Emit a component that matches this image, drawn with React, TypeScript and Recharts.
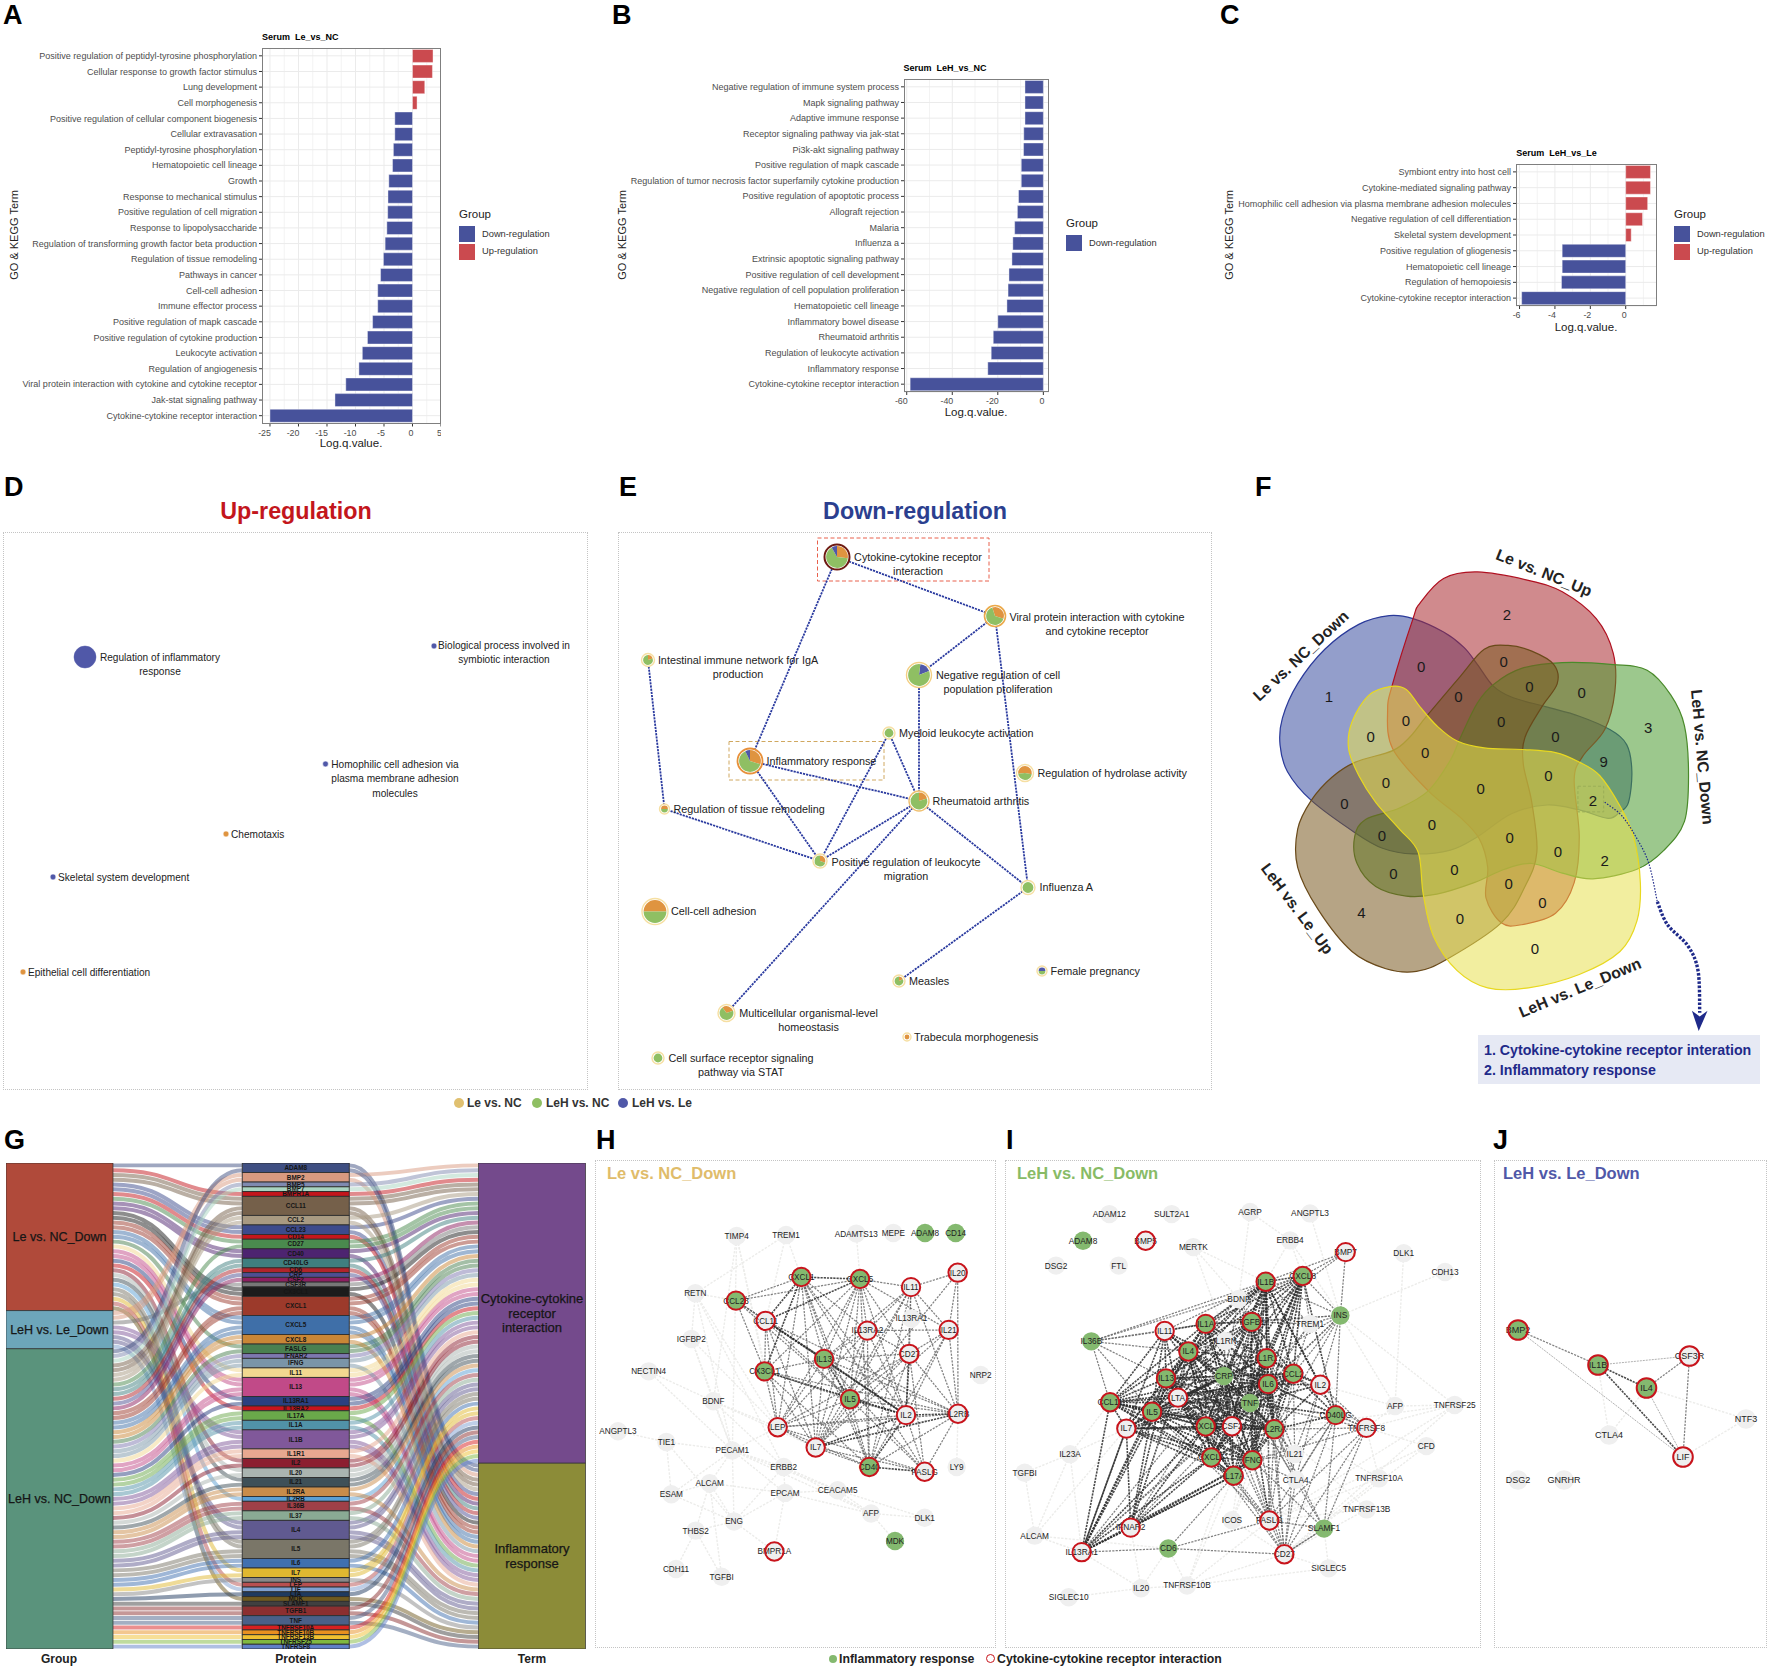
import { ReactNode } from 'react';
import {
  Bar,
  BarChart,
  CartesianGrid,
  Cell,
  ReferenceArea,
  ReferenceLine,
  Sankey,
  Scatter,
  ScatterChart,
  XAxis,
  YAxis
} from 'recharts';

const FONT = '"Liberation Sans", Arial, sans-serif';
const DOWN = '#47529b';
const UP = '#cb4a4f';
const PIE_GREEN = '#8fbf63';
const PIE_ORANGE = '#df9440';
const PIE_BLUE = '#5058a8';
const NODE_GREEN = '#84b96f';
const NODE_GREY = '#efefef';
const RING_RED = '#c8141c';
const NAVY = '#1f2a8a';

// ---- panels A, B, C ----
const aTerms = [
  'Positive regulation of peptidyl-tyrosine phosphorylation',
  'Cellular response to growth factor stimulus',
  'Lung development',
  'Cell morphogenesis',
  'Positive regulation of cellular component biogenesis',
  'Cellular extravasation',
  'Peptidyl-tyrosine phosphorylation',
  'Hematopoietic cell lineage',
  'Growth',
  'Response to mechanical stimulus',
  'Positive regulation of cell migration',
  'Response to lipopolysaccharide',
  'Regulation of transforming growth factor beta production',
  'Regulation of tissue remodeling',
  'Pathways in cancer',
  'Cell-cell adhesion',
  'Immune effector process',
  'Positive regulation of mapk cascade',
  'Positive regulation of cytokine production',
  'Leukocyte activation',
  'Regulation of angiogenesis',
  'Viral protein interaction with cytokine and cytokine receptor',
  'Jak-stat signaling pathway',
  'Cytokine-cytokine receptor interaction'
];
const aValues = [3.6, 3.5, 2.15, 0.8, -3.1, -3.1, -3.35, -3.5, -4.15, -4.3, -4.35, -4.5, -4.8, -5.1, -5.6, -6.1, -6.1, -7.0, -7.9, -8.8, -9.4, -11.7, -13.6, -25];
const aTicks = [-25, -20, -15, -10, -5, 0, 5];
const aMinor = [-22.5, -17.5, -12.5, -7.5, -2.5, 2.5];

const bTerms = [
  'Negative regulation of immune system process',
  'Mapk signaling pathway',
  'Adaptive immune response',
  'Receptor signaling pathway via jak-stat',
  'Pi3k-akt signaling pathway',
  'Positive regulation of mapk cascade',
  'Regulation of tumor necrosis factor superfamily cytokine production',
  'Positive regulation of apoptotic process',
  'Allograft rejection',
  'Malaria',
  'Influenza a',
  'Extrinsic apoptotic signaling pathway',
  'Positive regulation of cell development',
  'Negative regulation of cell population proliferation',
  'Hematopoietic cell lineage',
  'Inflammatory bowel disease',
  'Rheumatoid arthritis',
  'Regulation of leukocyte activation',
  'Inflammatory response',
  'Cytokine-cytokine receptor interaction'
];
const bValues = [-8.07, -8.07, -8.07, -8.6, -8.7, -9.7, -9.7, -10.9, -11.4, -12.6, -13.4, -13.8, -15.1, -15.5, -16, -20, -22, -22.9, -24.4, -58.5];
const bTicks = [-60, -40, -20, 0];
const bMinor = [-50, -30, -10];

const cTerms = [
  'Symbiont entry into host cell',
  'Cytokine-mediated signaling pathway',
  'Homophilic cell adhesion via plasma membrane adhesion molecules',
  'Negative regulation of cell differentiation',
  'Skeletal system development',
  'Positive regulation of gliogenesis',
  'Hematopoietic cell lineage',
  'Regulation of hemopoiesis',
  'Cytokine-cytokine receptor interaction'
];
const cValues = [1.4, 1.4, 1.24, 0.95, 0.31, -3.59, -3.59, -3.63, -5.88];
const cTicks = [-6, -4, -2, 0];
const cMinor = [-5, -3, -1, 1];

// ---- panel D ----
const dNodes = [
  { id: 'inflam', x: 85, y: 657, r: 11, inset: 0, ring: PIE_BLUE, ringWidth: 0.5, slices: [[PIE_BLUE, 1]], lines: ['Regulation of inflammatory', 'response'], lx: 160, ly: 657, anchor: 'middle' },
  { id: 'bio', x: 434, y: 646, r: 2.4, ring: '#c9cbe6', slices: [[PIE_BLUE, 1]], lines: ['Biological process involved in', 'symbiotic interaction'], lx: 504, ly: 645, anchor: 'middle' },
  { id: 'homo', x: 325.5, y: 764, r: 2.4, ring: '#c9cbe6', slices: [[PIE_BLUE, 1]], lines: ['Homophilic cell adhesion via', 'plasma membrane adhesion', 'molecules'], lx: 395, ly: 764, anchor: 'middle' },
  { id: 'chemo', x: 226, y: 834, r: 2.4, ring: '#f5dcc0', slices: [[PIE_ORANGE, 1]], lines: ['Chemotaxis'], lx: 231, ly: 834, anchor: 'start' },
  { id: 'skel', x: 53, y: 877, r: 2.4, ring: '#c9cbe6', slices: [[PIE_BLUE, 1]], lines: ['Skeletal system development'], lx: 58, ly: 877, anchor: 'start' },
  { id: 'epi', x: 23, y: 972, r: 2.4, ring: '#f5dcc0', slices: [[PIE_ORANGE, 1]], lines: ['Epithelial cell differentiation'], lx: 28, ly: 972, anchor: 'start' }
];

// ---- panel E ----
const PALE = '#f6dfa2';
const eNodes = [
  { id: 'ccr', x: 837, y: 557, r: 12.5, ring: '#6e1a12', ringWidth: 2, start: 0, slices: [[PIE_ORANGE, 0.27], [PIE_GREEN, 0.65], [PIE_BLUE, 0.08]], lines: ['Cytokine-cytokine receptor', 'interaction'], lx: 918, ly: 557, anchor: 'middle' },
  { id: 'viral', x: 995, y: 616, r: 10.5, ring: '#eba94a', ringWidth: 1.6, start: -0.05, slices: [[PIE_ORANGE, 0.35], [PIE_GREEN, 0.65]], lines: ['Viral protein interaction with cytokine', 'and cytokine receptor'], lx: 1097, ly: 617, anchor: 'middle' },
  { id: 'intest', x: 648, y: 660, r: 6.5, ring: PALE, start: 0, slices: [[PIE_ORANGE, 0.2], [PIE_GREEN, 0.8]], lines: ['Intestinal immune network for IgA', 'production'], lx: 738, ly: 660, anchor: 'middle' },
  { id: 'neg', x: 919, y: 675, r: 12.5, ring: '#f3cf84', start: 0.02, slices: [[PIE_BLUE, 0.17], [PIE_GREEN, 0.83]], lines: ['Negative regulation of cell', 'population proliferation'], lx: 998, ly: 675, anchor: 'middle' },
  { id: 'myel', x: 889, y: 733, r: 6, ring: PALE, start: 0, slices: [[PIE_GREEN, 1]], lines: ['Myeloid leukocyte activation'], lx: 899, ly: 733, anchor: 'start' },
  { id: 'inflam', x: 750, y: 761, r: 12.5, ring: '#e8903a', ringWidth: 1.8, start: 0, slices: [[PIE_ORANGE, 0.3], [PIE_GREEN, 0.63], [PIE_BLUE, 0.07]], lines: ['Inflammatory response'], lx: 766.5, ly: 761, anchor: 'start' },
  { id: 'hydro', x: 1025, y: 773, r: 8.5, ring: PALE, start: -0.27, slices: [[PIE_ORANGE, 0.55], [PIE_GREEN, 0.45]], lines: ['Regulation of hydrolase activity'], lx: 1037.5, ly: 773, anchor: 'start' },
  { id: 'tissue', x: 664.5, y: 809, r: 5, ring: PALE, start: -0.25, slices: [[PIE_ORANGE, 0.5], [PIE_GREEN, 0.5]], lines: ['Regulation of tissue remodeling'], lx: 673.5, ly: 809, anchor: 'start' },
  { id: 'rheum', x: 919, y: 801, r: 10, ring: '#f0c070', start: 0, slices: [[PIE_ORANGE, 0.2], [PIE_GREEN, 0.8]], lines: ['Rheumatoid arthritis'], lx: 932.6, ly: 801, anchor: 'start' },
  { id: 'posit', x: 820, y: 861, r: 7, ring: PALE, start: 0, slices: [[PIE_ORANGE, 0.3], [PIE_GREEN, 0.7]], lines: ['Positive regulation of leukocyte', 'migration'], lx: 906, ly: 862, anchor: 'middle' },
  { id: 'flu', x: 1028, y: 887.5, r: 7, ring: PALE, start: 0, slices: [[PIE_GREEN, 1]], lines: ['Influenza A'], lx: 1039.6, ly: 887.5, anchor: 'start' },
  { id: 'adhes', x: 655, y: 911.5, r: 13, ring: PALE, start: -0.25, slices: [[PIE_ORANGE, 0.5], [PIE_GREEN, 0.5]], lines: ['Cell-cell adhesion'], lx: 671, ly: 911.5, anchor: 'start' },
  { id: 'female', x: 1042, y: 971, r: 5, ring: PALE, start: -0.25, slices: [[PIE_BLUE, 0.5], [PIE_GREEN, 0.5]], lines: ['Female pregnancy'], lx: 1050.6, ly: 971, anchor: 'start' },
  { id: 'measles', x: 899, y: 981, r: 6, ring: PALE, start: 0, slices: [[PIE_ORANGE, 0.18], [PIE_GREEN, 0.82]], lines: ['Measles'], lx: 909, ly: 981, anchor: 'start' },
  { id: 'multi', x: 726.5, y: 1013, r: 8.5, ring: PALE, start: -0.1, slices: [[PIE_ORANGE, 0.3], [PIE_GREEN, 0.7]], lines: ['Multicellular organismal-level', 'homeostasis'], lx: 808.6, ly: 1013, anchor: 'middle' },
  { id: 'trab', x: 907, y: 1037, r: 4, ring: PALE, start: 0, slices: [[PIE_ORANGE, 1]], lines: ['Trabecula morphogenesis'], lx: 914, ly: 1037, anchor: 'start' },
  { id: 'surf', x: 658, y: 1058, r: 6, ring: PALE, start: 0, slices: [[PIE_GREEN, 1]], lines: ['Cell surface receptor signaling', 'pathway via STAT'], lx: 741, ly: 1058, anchor: 'middle' }
];
const eEdges = [
  ['ccr', 'inflam'], ['ccr', 'viral'], ['viral', 'neg'], ['viral', 'flu'], ['neg', 'rheum'],
  ['intest', 'tissue'], ['inflam', 'posit'], ['inflam', 'rheum'], ['tissue', 'posit'],
  ['myel', 'posit'], ['myel', 'rheum'], ['rheum', 'posit'], ['rheum', 'multi'], ['rheum', 'flu'], ['flu', 'measles']
];

// ---- panel F, traced on a 1568 x 1568 grid over the venn area ----
const vennBlue = [[510, 310], [600, 345], [660, 385], [700, 430], [745, 485], [800, 515], [900, 540], [1000, 565], [1090, 600], [1140, 640], [1155, 710], [1145, 790], [1120, 815], [1085, 832], [1000, 810], [905, 797], [800, 820], [700, 880], [620, 915], [510, 925], [420, 910], [340, 870], [210, 785], [140, 710], [118, 640], [125, 570], [170, 480], [250, 390], [350, 325], [440, 302]];
const vennRed = [[510, 310], [450, 480], [435, 550], [450, 650], [555, 760], [650, 830], [705, 885], [730, 960], [725, 1040], [770, 1105], [830, 1110], [930, 1080], [985, 1000], [1000, 880], [985, 730], [1010, 670], [1075, 600], [1105, 500], [1100, 400], [1050, 310], [950, 240], [850, 210], [700, 188], [600, 205], [530, 270]];
const vennGreen = [[750, 480], [830, 440], [950, 425], [1100, 430], [1200, 445], [1270, 510], [1310, 590], [1322, 720], [1310, 840], [1250, 915], [1170, 965], [1040, 990], [950, 975], [860, 950], [780, 965], [690, 1000], [580, 1030], [490, 1035], [400, 1010], [345, 950], [338, 880], [370, 835], [470, 805], [555, 760], [620, 680], [650, 620], [700, 530]];
const vennBrown = [[210, 785], [170, 860], [170, 960], [230, 1070], [330, 1180], [430, 1225], [520, 1232], [610, 1200], [770, 1105], [840, 1010], [875, 920], [860, 790], [835, 690], [840, 620], [890, 540], [935, 480], [925, 430], [860, 395], [790, 380], [720, 390], [650, 460], [550, 565], [500, 620], [450, 655], [340, 685], [270, 725]];
const vennYellow = [[445, 487], [380, 510], [330, 580], [320, 650], [350, 720], [400, 790], [470, 860], [525, 920], [540, 1030], [570, 1140], [640, 1230], [730, 1275], [850, 1275], [1000, 1240], [1120, 1180], [1170, 1100], [1180, 1000], [1160, 880], [1120, 800], [1060, 720], [1000, 685], [930, 660], [830, 652], [720, 648], [640, 630], [580, 590], [530, 540], [490, 495]];
const vennBlobs = [
  { outline: vennBlue, fill: '#3a4ea0', stroke: '#2a3a9a' },
  { outline: vennRed, fill: '#aa2a30', stroke: '#b01020' },
  { outline: vennGreen, fill: '#4a9a30', stroke: '#4a8a2a' },
  { outline: vennBrown, fill: '#7a5a20', stroke: '#6a4a1a' },
  { outline: vennYellow, fill: '#e8e050', stroke: '#e8d820' }
];
const vennCounts = [
  [262, 513, 1], [787, 298, 2], [534, 435, 0], [777, 422, 0], [644, 514, 0], [853, 487, 0], [1007, 503, 0], [1203, 595, 3],
  [489, 575, 0], [385, 618, 0], [770, 579, 0], [930, 619, 0], [546, 659, 0], [1072, 683, 9], [909, 721, 0], [430, 738, 0],
  [709, 755, 0], [308, 793, 0], [1040, 785, 2], [566, 849, 0], [418, 878, 0], [795, 881, 0], [937, 919, 0], [1075, 942, 2],
  [452, 976, 0], [632, 966, 0], [792, 1001, 0], [891, 1052, 0], [358, 1079, 4], [648, 1093, 0], [869, 1171, 0]
];
const vennThinTrail = [[1075, 790], [1125, 825], [1170, 885], [1205, 950], [1230, 1050]];
const vennThickTrail = [[1230, 1050], [1260, 1110], [1320, 1165], [1350, 1230], [1355, 1340]];
const vennArrowHead = [[1332, 1335], [1355, 1350], [1378, 1335], [1352, 1388]];

// ---- panel G: which term each protein falls under, per group (C cytokine, F inflammatory) ----
const proteins = ['ADAM8', 'BMP2', 'BMP5', 'BMP7', 'BMPR1A', 'CCL11', 'CCL2', 'CCL23', 'CD14', 'CD27', 'CD40', 'CD40LG', 'CD6', 'CRP', 'CSF2', 'CSF3R', 'CX3CL1', 'CXCL1', 'CXCL5', 'CXCL8', 'FASLG', 'IFNAR2', 'IFNG', 'IL11', 'IL13', 'IL13RA1', 'IL13RA2', 'IL17A', 'IL1A', 'IL1B', 'IL1R1', 'IL2', 'IL20', 'IL21', 'IL2RA', 'IL2RB', 'IL36B', 'IL37', 'IL4', 'IL5', 'IL6', 'IL7', 'INS', 'LEP', 'LIF', 'LTA', 'MDK', 'SLAMF1', 'TGFB1', 'TNF', 'TNFRSF10A', 'TNFRSF10B', 'TNFRSF13B', 'TNFRSF25', 'TNFRSF8'];
const proteinColors = ['#3f4f82', '#d99a80', '#7f8ab0', '#a8d4c0', '#c4161c', '#75604a', '#a89a82', '#3c4a8c', '#c4161c', '#4a8a4e', '#4d2470', '#3f7f7f', '#b0242a', '#4e4f92', '#8c1f60', '#777777', '#1c1c1c', '#9c3a2b', '#3f6fa8', '#c98636', '#4a8050', '#7d78b0', '#7a95a8', '#f2d890', '#c14a88', '#2a4080', '#c8141c', '#6aa84a', '#5192a8', '#80589a', '#e8a890', '#8c1f30', '#aab4b0', '#3f5058', '#c98c4a', '#5a9fd4', '#a04048', '#8aaa94', '#605a90', '#7a7668', '#4070b0', '#e0b830', '#888888', '#b85050', '#7fa0d0', '#1f3a60', '#6f5a20', '#404040', '#8c2f30', '#4a6088', '#d82020', '#e89020', '#f0c030', '#80b840', '#6080c8'];
const groupNames = ['Le vs. NC_Down', 'LeH vs. Le_Down', 'LeH vs. NC_Down'];
const groupColors = ['#b04a3a', '#6da6ba', '#5a937c'];
const termNames = ['Cytokine-cytokine receptor interaction', 'Inflammatory response'];
const termColors = ['#744a8c', '#8c8c38'];
const leNcFlows = 'ADAM8:F BMPR1A:C CCL11:CF CCL23:CF CD14:F CD27:C CD40:CF CX3CL1:CF CXCL1:CF CXCL5:CF FASLG:C IL11:C IL13:CF IL13RA1:C IL13RA2:C IL2:C IL20:C IL21:C IL2RB:C IL5:CF IL7:C LEP:C MDK:F';
const lehLeFlows = 'BMP2:CF CSF3R:C IL1B:CF IL4:CF LIF:C';
const lehNcFlows = 'ADAM8:F BMP5:C BMP7:C CCL11:CF CCL2:CF CD27:C CD40LG:CF CD6:F CRP:F CSF2:C CXCL1:CF CXCL5:CF CXCL8:CF FASLG:C IFNAR2:C IFNG:CF IL11:C IL13:CF IL13RA1:C IL17A:CF IL1A:CF IL1B:CF IL1R1:CF IL2:C IL20:C IL21:C IL2RA:CF IL36B:CF IL37:CF IL4:CF IL5:CF IL6:CF IL7:C INS:F LTA:C SLAMF1:F TGFB1:CF TNF:CF TNFRSF10A:C TNFRSF10B:C TNFRSF13B:C TNFRSF25:C TNFRSF8:C';
const groupFlows = [leNcFlows, lehLeFlows, lehNcFlows];

// ---- panels H, I, J: [name, x, y, kind]; g grey, G green, R ringed, B green and ringed ----
type NetNode = [string, number, number, string];

const hNodes: NetNode[] = [
  ['TIMP4', 440, 285, 'g'], ['TREM1', 588, 282, 'g'], ['ADAMTS13', 799, 278, 'g'], ['MEPE', 910, 276, 'g'], ['ADAM8', 1005, 276, 'G'], ['CD14', 1097, 276, 'G'],
  ['IL20', 1103, 394, 'R'], ['CXCL1', 634, 407, 'B'], ['CXCL5', 810, 413, 'B'], ['IL11', 963, 437, 'R'], ['RETN', 316, 455, 'g'], ['CCL23', 438, 477, 'B'],
  ['CCL11', 527, 537, 'R'], ['IL13RA1', 964, 530, 'g'], ['IL13RA2', 832, 566, 'R'], ['IL21', 1076, 564, 'R'], ['IGFBP2', 304, 591, 'g'], ['CD27', 958, 635, 'R'],
  ['IL13', 702, 650, 'B'], ['CX3CL1', 524, 687, 'B'], ['NECTIN4', 176, 687, 'g'], ['NRP2', 1172, 698, 'g'], ['IL5', 780, 770, 'B'], ['BDNF', 370, 776, 'g'],
  ['IL2', 948, 817, 'R'], ['IL2RB', 1104, 813, 'R'], ['LEP', 563, 853, 'R'], ['ANGPTL3', 84, 865, 'g'], ['TIE1', 229, 897, 'g'], ['IL7', 677, 913, 'R'],
  ['PECAM1', 427, 922, 'g'], ['ERBB2', 581, 971, 'g'], ['CD40', 838, 971, 'B'], ['FASLG', 1004, 985, 'R'], ['LY9', 1100, 971, 'g'], ['ALCAM', 359, 1019, 'g'],
  ['ESAM', 244, 1052, 'g'], ['EPCAM', 585, 1048, 'g'], ['CEACAM5', 743, 1040, 'g'], ['AFP', 843, 1109, 'g'], ['DLK1', 1004, 1122, 'g'], ['ENG', 432, 1133, 'g'],
  ['THBS2', 317, 1160, 'g'], ['MDK', 915, 1191, 'G'], ['BMPR1A', 553, 1222, 'R'], ['CDH11', 258, 1274, 'g'], ['TGFBI', 395, 1297, 'g']
];
const hStrong = ['CCL11:IL2 IL13', 'IL13:IL2 IL5', 'IL5:IL2', 'IL7:IL2 IL2RB', 'CXCL1:CXCL5 CCL11 CX3CL1', 'CXCL5:CCL11', 'IL2:IL2RB CD40', 'CD40:FASLG', 'CX3CL1:IL2', 'CD27:IL2'];
const hMid = [
  'CXCL1:CCL23 IL13 IL5 IL2 IL13RA2 IL7 LEP CD40 FASLG',
  'CXCL5:CCL23 IL11 IL13RA2 IL13 CX3CL1 IL5 IL2 IL7 CD40 LEP IL21 CD27',
  'IL11:IL13RA2 IL13 IL2 IL5 CD40 IL21 CD27 IL2RB IL7',
  'IL20:IL21 IL2RB IL11 IL7',
  'CCL23:CCL11 CX3CL1 IL13 IL5 IL2',
  'CCL11:CX3CL1 IL5 LEP IL7 IL2RB',
  'IL13RA2:IL13 CD27 IL21 IL2 CD40 LEP IL7 IL5',
  'IL21:IL2RB IL2 CD27 IL7 CD40',
  'CD27:IL13 IL5 IL2RB CD40 FASLG IL7 LEP',
  'IL13:CX3CL1 IL2RB CD40 LEP IL7 FASLG',
  'CX3CL1:IL5 LEP IL7 CD40 IL2RB',
  'IL5:IL2RB CD40 LEP IL7 FASLG',
  'IL2:FASLG LEP',
  'IL2RB:CD40 FASLG LEP',
  'LEP:IL7 CD40 FASLG',
  'IL7:CD40 FASLG'
];
const hFaint = [
  'TIMP4:CX3CL1 BDNF PECAM1 LEP', 'TREM1:CXCL1 CCL11 RETN', 'ADAMTS13:CXCL5', 'RETN:IGFBP2 LEP CCL23 PECAM1 ERBB2', 'IGFBP2:LEP BDNF PECAM1',
  'NECTIN4:BDNF PECAM1', 'BDNF:PECAM1 LEP ERBB2 IL7', 'ANGPTL3:TIE1', 'TIE1:PECAM1 ESAM ENG', 'PECAM1:ALCAM ESAM ENG EPCAM ERBB2 CEACAM5 AFP LEP',
  'ERBB2:EPCAM CEACAM5 AFP ENG', 'EPCAM:CEACAM5 AFP ENG BMPR1A ALCAM', 'ALCAM:ESAM ENG THBS2 TGFBI', 'ENG:THBS2 BMPR1A ESAM', 'THBS2:CDH11 TGFBI',
  'AFP:DLK1 MDK CEACAM5', 'LY9:IL2RB', 'DLK1:CEACAM5'
];

const iNodes: NetNode[] = [
  ['ADAM12', 328, 220, 'g'], ['SULT2A1', 515, 220, 'g'], ['AGRP', 750, 214, 'g'], ['ANGPTL3', 930, 218, 'g'], ['ADAM8', 249, 299, 'G'], ['BMP5', 437, 299, 'R'],
  ['ERBB4', 870, 298, 'g'], ['MERTK', 580, 318, 'g'], ['BMP7', 1037, 333, 'R'], ['DLK1', 1211, 336, 'g'], ['DSG2', 168, 373, 'g'], ['FTL', 356, 373, 'g'],
  ['CDH13', 1335, 392, 'g'], ['CXCL8', 908, 404, 'B'], ['IL1B', 797, 421, 'B'], ['BDNF', 716, 472, 'g'], ['INS', 1021, 521, 'G'], ['TGFB1', 755, 540, 'B'],
  ['IL1A', 617, 546, 'B'], ['TREM1', 930, 546, 'g'], ['IL11', 494, 567, 'R'], ['IL36B', 274, 598, 'G'], ['IL1RN', 675, 597, 'g'], ['IL4', 565, 628, 'B'],
  ['IL1R1', 800, 648, 'B'], ['CCL2', 880, 694, 'B'], ['CRP', 672, 701, 'G'], ['IL13', 498, 708, 'B'], ['IL6', 804, 725, 'B'], ['IL2', 961, 727, 'R'],
  ['LTA', 534, 765, 'R'], ['CCL11', 330, 779, 'B'], ['TNF', 750, 781, 'G'], ['IL5', 456, 807, 'B'], ['CD40LG', 1007, 817, 'B'], ['TNFRSF25', 1364, 787, 'g'],
  ['AFP', 1185, 790, 'g'], ['CXCL1', 617, 851, 'B'], ['CSF2', 696, 850, 'R'], ['IL2RA', 823, 859, 'B'], ['IL7', 379, 857, 'R'], ['TNFRSF8', 1099, 855, 'R'],
  ['CFD', 1279, 909, 'g'], ['IL21', 884, 933, 'g'], ['IL23A', 210, 933, 'g'], ['CXCL5', 634, 943, 'B'], ['IFNG', 757, 951, 'B'], ['IL17A', 701, 997, 'B'],
  ['TGFBI', 74, 988, 'g'], ['CTLA4', 887, 1009, 'g'], ['TNFRSF10A', 1137, 1005, 'g'], ['TNFRSF13B', 1100, 1097, 'g'], ['ICOS', 696, 1129, 'g'], ['FASLG', 808, 1130, 'R'],
  ['IFNAR2', 392, 1151, 'R'], ['SLAMF1', 972, 1154, 'G'], ['ALCAM', 104, 1175, 'g'], ['CD6', 505, 1213, 'G'], ['IL13RA1', 245, 1224, 'R'], ['CD27', 853, 1230, 'R'],
  ['SIGLEC5', 986, 1272, 'g'], ['IL20', 423, 1331, 'g'], ['TNFRSF10B', 561, 1323, 'g'], ['SIGLEC10', 206, 1358, 'g']
];
const iStrong = [
  'IL1B:CXCL8 TGFB1 IL1A IL4 IL1R1 CCL2 CRP IL6 TNF IL2RA CSF2 IFNG IL13 IL5 CXCL1 CD40LG IL2',
  'CXCL8:TGFB1 IL1A IL1R1 CCL2 IL6 TNF IFNG CRP CD40LG IL2RA IL4 CXCL1 CSF2',
  'TGFB1:IL1A IL4 IL1R1 CRP IL6 TNF IL13 CSF2 IL2RA IL5 CCL2 IFNG CXCL5 LTA',
  'IL1A:IL11 IL4 IL1R1 CRP IL13 IL6 TNF LTA CSF2 IL5 CCL11 CXCL1 IFNG',
  'IL11:IL4 IL13 IL5 IL6 CCL11 TNF CSF2 LTA CRP IL7',
  'IL4:IL13 IL5 LTA CRP TNF IL6 CXCL1 CSF2 IFNG IL17A CCL11 IL7 CXCL5 IL2RA IL1R1',
  'IL1R1:CCL2 CRP IL6 TNF IL2 IL2RA CSF2 IFNG CXCL1 IL13 IL5 CXCL5 LTA',
  'CCL2:CRP IL6 TNF IL2 IL2RA CSF2 CXCL1 CXCL5 IFNG IL5 CD40LG IL13 IL17A LTA',
  'CRP:IL13 IL6 LTA TNF IL5 CXCL1 CSF2 IL2RA CXCL5 IFNG IL17A CCL11 IL7',
  'IL13:IL5 LTA TNF CXCL1 CSF2 IL7 CCL11 IL6 IFNG IL17A CXCL5 IL2RA',
  'IL6:TNF IL2 IL5 CXCL1 CSF2 IL2RA CXCL5 IFNG IL17A LTA CD40LG CCL11 IL7',
  'LTA:TNF IL5 CXCL1 CSF2 CXCL5 IL7 IFNG CCL11 IL17A IL2RA',
  'CCL11:IL5 IL7 CXCL1 CXCL5 TNF IL17A CSF2 IFNG IL2RA',
  'TNF:IL5 CXCL1 CSF2 IL2RA CXCL5 IFNG IL17A CD40LG IL2 FASLG IL7',
  'IL5:CXCL1 CSF2 CXCL5 IFNG IL17A IL7 IFNAR2 IL2RA',
  'CXCL1:CSF2 IL7 CXCL5 IFNG IL17A IL2RA',
  'CSF2:IL2RA CXCL5 IFNG IL17A IL7',
  'IL2RA:CXCL5 IFNG IL17A CD40LG IL2 IL7',
  'IL7:CXCL5 IFNG IL17A IL13RA1 IFNAR2',
  'CXCL5:IFNG IL17A IFNAR2',
  'IFNG:IL17A IFNAR2',
  'IL13RA1:IL13 CCL11 IL7 IFNAR2 IL17A IL4 IL5 CXCL1 CXCL5 IFNG',
  'IFNAR2:IL17A CXCL1 IL13 IL4'
];
const iMid = [
  'IL36B:IL11 IL1A IL4 IL13 IL1B CCL11 IL5', 'BMP7:IL1B CXCL8 INS TGFB1', 'INS:IL1B CXCL8 TGFB1 IL6 IL2 IL1A CCL2 CD40LG TNF IL1R1 IL2RA',
  'IFNAR2:TNF CRP', 'IL13RA1:TNF CD6 IL6 CRP', 'FASLG:IL2RA CSF2 IFNG IL17A IL1B IL6 CCL2 IL5 IL4 CXCL5 CD40LG TNFRSF8', 'CD27:FASLG TNFRSF8 CD40LG IL2RA IFNG IL17A SLAMF1 CD6 CTLA4 IL21 CXCL5 TNF IL6',
  'TNFRSF8:CD40LG IL2RA TNF IL2 IL6 CCL2 IFNG', 'SLAMF1:CD27 TNFRSF8 CD40LG IL2RA FASLG IFNG TNF', 'CD6:IL17A FASLG', 'IL21:IL2RA IFNG IL6 TNF IL2 CCL2 CSF2 CD40LG',
  'CTLA4:IL2RA IFNG TNF CD40LG IL2 IL6', 'BDNF:IL1B CXCL8 TGFB1 IL1A IL4 TNF IL6 CRP', 'TREM1:IL1B CXCL8 INS TNF CCL2 IL6 TGFB1', 'IL1RN:IL1B IL1A IL1R1 TNF IL6 CRP IL4 TGFB1 IL13', 'IL11:IL1B', 'IL36B:CXCL8'
];
const iFaint = [
  'AGRP:BDNF ERBB4', 'ERBB4:CXCL8 IL1B INS', 'MERTK:BDNF TNF IL1B', 'ANGPTL3:INS', 'DLK1:AFP', 'CDH13:INS', 'AFP:TNFRSF25 TNFRSF8 INS IL2', 'TNFRSF25:TNFRSF8 CD27 IL2RA INS FASLG',
  'CFD:TNFRSF8 CD27 FASLG', 'TNFRSF10A:CD27 FASLG TNFRSF8 TNF', 'TNFRSF13B:CD27 TNF FASLG', 'ICOS:CD27 IFNG IL2RA TNF', 'TNFRSF10B:CD27 CD6 FASLG TNF IL17A', 'SIGLEC5:CD27 SLAMF1',
  'IL20:CD6 IFNAR2 IL13RA1', 'SIGLEC10:IL20', 'ALCAM:IL13RA1 IL23A CD6 TGFBI IL7', 'TGFBI:IL23A', 'IL23A:IL7 CCL11 IL13RA1', 'TNFRSF10B:SIGLEC5 IL20'
];

const jNodes: NetNode[] = [
  ['BMP2', 1518, 1330, 'B'], ['IL1B', 1598, 1365, 'B'], ['CSF3R', 1689.5, 1356, 'R'], ['IL4', 1646.5, 1388, 'B'], ['CTLA4', 1609, 1435, 'g'],
  ['LIF', 1683, 1457, 'R'], ['NTF3', 1746, 1419, 'g'], ['DSG2', 1518, 1480, 'g'], ['GNRHR', 1564, 1480, 'g']
];
const jStrong = ['IL1B:IL4 LIF'];
const jMid = ['BMP2:IL1B', 'IL4:CSF3R', 'CSF3R:LIF'];
const jThin = ['BMP2:LIF', 'IL4:LIF', 'IL1B:CSF3R'];
const jFaint = ['NTF3:IL4 LIF', 'CTLA4:IL1B IL4'];

const parseEdges = (rows: string[]) =>
  rows.flatMap(row => {
    const [from, rest] = row.split(':');
    return rest.split(' ').map(to => [from, to]);
  });

const parsedFlows = groupFlows.map(list => list.split(' ').map(item => item.split(':')));
const sankeyNodes = [
  ...groupNames.map((name, i) => ({ name, color: groupColors[i] })),
  ...proteins.map((name, i) => ({ name, color: proteinColors[i] })),
  ...termNames.map((name, i) => ({ name, color: termColors[i] }))
];
const proteinBase = groupNames.length;
const termBase = proteinBase + proteins.length;
const sankeyLinks = parsedFlows.flatMap((rows, g) =>
  rows.flatMap(([protein, terms]) =>
    terms.split('').flatMap(term => {
      const p = proteinBase + proteins.indexOf(protein);
      const t = termBase + (term === 'C' ? 0 : 1);
      return [
        { source: g, target: p, value: 1 },
        { source: p, target: t, value: 1 }
      ];
    })
  )
);

const smoothPath = (pts: number[][], closed: boolean) => {
  const n = pts.length;
  const at = (i: number) => (closed ? pts[(i + n) % n] : pts[Math.max(0, Math.min(n - 1, i))]);
  let d = `M${pts[0][0]},${pts[0][1]}`;
  const last = closed ? n : n - 1;
  for (let i = 0; i < last; i++) {
    const [p0, p1, p2, p3] = [at(i - 1), at(i), at(i + 1), at(i + 2)];
    d += `C${p1[0] + (p2[0] - p0[0]) / 6},${p1[1] + (p2[1] - p0[1]) / 6} ${p2[0] - (p3[0] - p1[0]) / 6},${p2[1] - (p3[1] - p1[1]) / 6} ${p2[0]},${p2[1]}`;
  }
  return closed ? `${d}Z` : d;
};

const sectorPath = (cx: number, cy: number, r: number, from: number, to: number) => {
  if (to - from >= 0.999) return `M${cx - r},${cy}a${r},${r} 0 1,0 ${2 * r},0a${r},${r} 0 1,0 ${-2 * r},0Z`;
  const pt = (f: number) => [cx + r * Math.sin(f * 2 * Math.PI), cy - r * Math.cos(f * 2 * Math.PI)];
  const [a, b] = [pt(from), pt(to)];
  return `M${cx},${cy}L${a[0]},${a[1]}A${r},${r} 0 ${to - from > 0.5 ? 1 : 0},1 ${b[0]},${b[1]}Z`;
};

const Txt = ({ x, y, size, color = '#000', bold, anchor = 'start', rotate = 0, children }: {
  x: number; y: number; size: number; color?: string; bold?: boolean; anchor?: string; rotate?: number; children: ReactNode;
}) => (
  <div
    style={{
      position: 'absolute',
      left: x,
      top: y,
      fontFamily: FONT,
      fontSize: size,
      color,
      fontWeight: bold ? 700 : 400,
      whiteSpace: 'pre',
      lineHeight: 1,
      transform: `translate(${anchor === 'middle' ? '-50%' : '0'},-50%) rotate(${rotate}deg)`
    }}
  >
    {children}
  </div>
);

const Frame = ({ x0, y0, x1, y1, color = '#c4c4c4', style = 'dotted', width = 1 }: any) => (
  <div style={{ position: 'absolute', left: x0, top: y0, width: x1 - x0, height: y1 - y0, border: `${width}px ${style} ${color}`, boxSizing: 'border-box' }} />
);

const Swatch = ({ x, y, color }: { x: number; y: number; color: string }) => (
  <div style={{ position: 'absolute', left: x, top: y, width: 16, height: 16, background: color }} />
);

const CategoryTick = ({ x, y, payload }: any) => (
  <text x={x} y={y} dy={3.1} textAnchor="end" fontSize={9} fontFamily={FONT} fill="#4d4d4d">
    {payload.value}
  </text>
);

const ValueTick = ({ x, y, payload }: any) => (
  <text x={x + 1} y={y} dy={7} textAnchor="end" fontSize={8.9} fontFamily={FONT} fill="#4d4d4d">
    {payload.value}
  </text>
);

const BarPanel = ({ title, terms, values, ticks, minor, domain, x0, x1, y0, y1 }: {
  title: string; terms: string[]; values: number[]; ticks: number[]; minor: number[]; domain: number[]; x0: number; x1: number; y0: number; y1: number;
}) => {
  const data = terms.map((term, i) => ({ term, value: values[i] }));
  const leftSpace = 345;
  const plotH = y1 - y0;
  return (
    <>
      <div style={{ position: 'absolute', left: x0 - leftSpace, top: y0 }}>
        <BarChart
          width={leftSpace + x1 - x0}
          height={plotH + 24}
          data={data}
          layout="vertical"
          barCategoryGap="9%"
          margin={{ top: 0, right: 0, bottom: 0, left: 0 }}
        >
          <CartesianGrid stroke="#f3f3f3" horizontal={false} verticalValues={minor} />
          <CartesianGrid stroke="#ebebeb" verticalValues={ticks} />
          <XAxis type="number" domain={domain} ticks={ticks} height={24} interval={0} allowDataOverflow tick={<ValueTick />} tickSize={3} stroke="#333" axisLine={false} />
          <YAxis type="category" dataKey="term" width={leftSpace} interval={0} tick={<CategoryTick />} tickSize={3} tickMargin={2} stroke="#333" axisLine={false} />
          <Bar dataKey="value" isAnimationActive={false} stroke="#ffffff" strokeWidth={0.4}>
            {data.map(d => (
              <Cell key={d.term} fill={d.value < 0 ? DOWN : UP} />
            ))}
          </Bar>
        </BarChart>
      </div>
      <Frame x0={x0} y0={y0} x1={x1} y1={y1} color="#7f7f7f" style="solid" width={1.2} />
      <Txt x={x0} y={y0 - 11} size={9} bold>{title}</Txt>
    </>
  );
};

const BarExtras = ({ axisX, axisY, goX }: { axisX: number; axisY: number; goX: number }) => (
  <>
    <Txt x={axisX} y={axisY} size={11.5} anchor="middle" color="#222">Log.q.value.</Txt>
    <Txt x={goX} y={235} size={11} anchor="middle" rotate={-90} color="#222">GO &amp; KEGG Term</Txt>
  </>
);

const GroupLegend = ({ x, y, both }: { x: number; y: number; both: boolean }) => (
  <>
    <Txt x={x} y={y} size={11.5} color="#222">Group</Txt>
    <Swatch x={x} y={y + 11} color={DOWN} />
    <Txt x={x + 23} y={y + 20} size={9.3} color="#333">Down-regulation</Txt>
    {both && <Swatch x={x} y={y + 29} color={UP} />}
    {both && <Txt x={x + 23} y={y + 37} size={9.3} color="#333">Up-regulation</Txt>}
  </>
);

const Plane = ({ left, top, width, height, xDomain, yDomain, children }: {
  left: number; top: number; width: number; height: number; xDomain: number[]; yDomain: number[]; children: ReactNode;
}) => (
  <div style={{ position: 'absolute', left, top }}>
    <ScatterChart width={width} height={height} margin={{ top: 0, right: 0, bottom: 0, left: 0 }}>
      <XAxis type="number" dataKey="x" domain={xDomain} hide allowDataOverflow />
      <YAxis type="number" dataKey="y" domain={yDomain} reversed hide allowDataOverflow />
      {children}
    </ScatterChart>
  </div>
);

const PieNode = ({ cx, cy, payload, labelSize }: any) => {
  const { r, ring, ringWidth = 1.4, slices, start = 0, inset = 1.6, lines, lx, ly, anchor } = payload;
  let from = start;
  return (
    <g>
      <circle cx={cx} cy={cy} r={r} fill="#fff" stroke={ring} strokeWidth={ringWidth} />
      {slices.map(([color, frac]: [string, number], i: number) => {
        const d = sectorPath(cx, cy, r > 3 ? r - inset : r, from, from + frac);
        from += frac;
        return <path key={i} d={d} fill={color} />;
      })}
      {lines.map((line: string, i: number) => (
        <text key={i} x={cx + lx - payload.x} y={cy + ly - payload.y + i * 14.6} dy={3.6} textAnchor={anchor} fontSize={labelSize} fontFamily={FONT} fill="#222">
          {line}
        </text>
      ))}
    </g>
  );
};

const NetworkMark = ({ cx, cy, payload, labelSize, radius }: any) => {
  const { name, kind } = payload;
  const fill = kind === 'G' || kind === 'B' ? NODE_GREEN : NODE_GREY;
  const ringed = kind === 'R' || kind === 'B';
  return (
    <g>
      <circle cx={cx} cy={cy} r={radius} fill={fill} />
      <text x={cx} y={cy} dy={2.9} textAnchor="middle" fontSize={labelSize} fontFamily={FONT} fill="#222">
        {name}
      </text>
      {ringed && <circle cx={cx} cy={cy} r={radius} fill="none" stroke={RING_RED} strokeWidth={2} />}
    </g>
  );
};

const Network = ({ left, top, width, height, xDomain, yDomain, nodes, strong, mid, faint, thin = [], labelSize = 8.2, radius = 9.2 }: {
  left: number; top: number; width: number; height: number; xDomain: number[]; yDomain: number[]; nodes: NetNode[]; strong: string[]; mid: string[]; faint: string[]; thin?: string[]; labelSize?: number; radius?: number;
}) => {
  const points = nodes.map(([name, x, y, kind]) => ({ name, x, y, kind }));
  const find = (name: string) => {
    const p = points.find(d => d.name === name)!;
    return { x: p.x, y: p.y };
  };
  const layer = (rows: string[], stroke: string, strokeWidth: number, opacity: number, dash: string, tag: string) =>
    parseEdges(rows).map(([a, b], i) => (
      <ReferenceLine
        key={`${tag}-${i}`}
        segment={[find(a), find(b)]}
        stroke={stroke}
        strokeWidth={strokeWidth}
        strokeOpacity={opacity}
        strokeDasharray={dash}
        ifOverflow="visible"
      />
    ));
  return (
    <Plane left={left} top={top} width={width} height={height} xDomain={xDomain} yDomain={yDomain}>
      {layer(faint, '#ececea', 1.4, 1, '2.4 1.4', 'f')}
      {layer(thin, '#a8a8a8', 0.9, 1, '2 1', 't')}
      {layer(mid, '#626262', 1.25, 0.8, '2.2 1.2', 'm')}
      {layer(strong, '#2c2c2c', 1.6, 0.85, '2.2 1', 's')}
      <Scatter data={points} isAnimationActive={false} shape={<NetworkMark labelSize={labelSize} radius={radius} />} />
    </Plane>
  );
};

const VENN_SX = 532 / 1568;
const VENN_SY = 600 / 1568;
const vennPoints = (pts: number[][], cx: number, cy: number) =>
  pts.map(p => [cx + (p[0] - pts[0][0]) * VENN_SX, cy + (p[1] - pts[0][1]) * VENN_SY]);

const VennBlob = ({ cx, cy, payload }: any) => (
  <path d={smoothPath(vennPoints(payload.outline, cx, cy), true)} fill={payload.fill} fillOpacity={0.55} stroke={payload.stroke} strokeWidth={1.2} />
);

const VennCount = ({ cx, cy, payload }: any) => (
  <text x={cx} y={cy} dy={5.5} textAnchor="middle" fontSize={15} fontFamily={FONT} fill="#1a1a1a">
    {payload.count}
  </text>
);

const VennTrail = ({ cx, cy, payload }: any) => (
  <path d={smoothPath(vennPoints(payload.outline, cx, cy), false)} fill="none" stroke={NAVY} strokeWidth={payload.width} strokeDasharray={payload.dash} />
);

const VennHead = ({ cx, cy, payload }: any) => (
  <path d={`M${vennPoints(payload.outline, cx, cy).join('L')}Z`} fill={NAVY} />
);

const blobPoints = vennBlobs.map(b => ({ ...b, x: b.outline[0][0], y: b.outline[0][1] }));
const countPoints = vennCounts.map(([x, y, count]) => ({ x, y, count }));
const trailPoints = [
  { outline: vennThinTrail, x: vennThinTrail[0][0], y: vennThinTrail[0][1], width: 1.2, dash: '1.5 1.5' },
  { outline: vennThickTrail, x: vennThickTrail[0][0], y: vennThickTrail[0][1], width: 3.4, dash: '2.6 1.6' }
];
const headPoints = [{ outline: vennArrowHead, x: vennArrowHead[0][0], y: vennArrowHead[0][1] }];

const AlluvialNode = ({ x, y, width, height, payload }: any) => {
  const big = groupNames.includes(payload.name) || termNames.includes(payload.name);
  const lines: string[] =
    payload.name === termNames[0] ? ['Cytokine-cytokine', 'receptor', 'interaction'] : payload.name === termNames[1] ? ['Inflammatory', 'response'] : [payload.name];
  const size = termNames.includes(payload.name) ? 13 : big ? 12.5 : 6.4;
  return (
    <g>
      <rect x={x} y={y} width={width} height={height} fill={payload.color} stroke="#2e2e2e" strokeWidth={big ? 0.7 : 0.9} />
      {lines.map((line, i) => (
        <text
          key={line}
          x={x + width / 2}
          y={y + height / 2 + (i - (lines.length - 1) / 2) * 14.4}
          dy={size * 0.35}
          textAnchor="middle"
          fontSize={size}
          fontWeight={big ? 400 : 700}
          stroke={big ? '#161616' : 'none'}
          strokeWidth={big ? 0.25 : 0}
          fontFamily={FONT}
          fill="#161616"
        >
          {line}
        </text>
      ))}
    </g>
  );
};

const AlluvialLink = ({ sourceX, targetX, sourceY, targetY, sourceControlX, targetControlX, linkWidth, payload }: any) => {
  const protein = proteins.includes(payload.source.name) ? payload.source : payload.target;
  return (
    <path
      d={`M${sourceX},${sourceY}C${sourceControlX},${sourceY} ${targetControlX},${targetY} ${targetX},${targetY}`}
      fill="none"
      stroke={protein.color}
      strokeWidth={Math.max(linkWidth - 0.8, 0.5)}
      strokeOpacity={0.5}
    />
  );
};

const App = () => (
  <div style={{ position: 'absolute', left: 0, top: 0, width: 1772, height: 1668, background: '#fff', overflow: 'hidden' }}>
    {/* A */}
    <Txt x={3} y={15} size={27} bold>A</Txt>
    <BarPanel title="Serum  Le_vs_NC" terms={aTerms} values={aValues} ticks={aTicks} minor={aMinor} domain={[-26.4, 5]} x0={262} x1={441} y0={48} y1={423.5} />
    <BarExtras axisX={351} axisY={444} goX={14} />
    <GroupLegend x={459} y={215} both />

    {/* B */}
    <Txt x={612} y={15} size={27} bold>B</Txt>
    <BarPanel title="Serum  LeH_vs_NC" terms={bTerms} values={bValues} ticks={bTicks} minor={bMinor} domain={[-61.2, 2.7]} x0={903.5} x1={1049} y0={79} y1={392} />
    <BarExtras axisX={976} axisY={412.7} goX={622} />
    <GroupLegend x={1066} y={224} both={false} />

    {/* C */}
    <Txt x={1220} y={15} size={27} bold>C</Txt>
    <BarPanel title="Serum  LeH_vs_Le" terms={cTerms} values={cValues} ticks={cTicks} minor={cMinor} domain={[-6.2, 1.74]} x0={1516.3} x1={1656.8} y0={164} y1={306} />
    <BarExtras axisX={1586} axisY={328} goX={1229} />
    <GroupLegend x={1674} y={215} both />

    {/* D */}
    <Txt x={4} y={487} size={27} bold>D</Txt>
    <Txt x={296} y={512} size={23.3} bold anchor="middle" color="#c3161c">Up-regulation</Txt>
    <Frame x0={3} y0={532} x1={588} y1={1090} />
    <Plane left={0} top={525} width={600} height={570} xDomain={[0, 600]} yDomain={[525, 1095]}>
      <Scatter data={dNodes} isAnimationActive={false} shape={<PieNode labelSize={10.1} />} />
    </Plane>

    {/* E */}
    <Txt x={619} y={487} size={27} bold>E</Txt>
    <Txt x={915} y={512} size={23.3} bold anchor="middle" color="#2b3f8f">Down-regulation</Txt>
    <Frame x0={618} y0={532} x1={1212} y1={1090} />
    <Plane left={610} top={525} width={610} height={570} xDomain={[610, 1220]} yDomain={[525, 1095]}>
      <ReferenceArea x1={817.5} x2={989} y1={538} y2={581} fill="none" stroke="#e8604c" strokeDasharray="4 2.5" ifOverflow="visible" />
      <ReferenceArea x1={729} x2={884} y1={741.5} y2={780} fill="none" stroke="#d0a860" strokeDasharray="4 2.5" ifOverflow="visible" />
      {eEdges.map(([a, b]) => {
        const [p, q] = [eNodes.find(n => n.id === a)!, eNodes.find(n => n.id === b)!];
        return (
          <ReferenceLine
            key={`${a}-${b}`}
            segment={[{ x: p.x, y: p.y }, { x: q.x, y: q.y }]}
            stroke="#2a3a9f"
            strokeWidth={1.8}
            strokeDasharray="2.2 1"
            ifOverflow="visible"
          />
        );
      })}
      <Scatter data={eNodes} isAnimationActive={false} shape={<PieNode labelSize={10.8} />} />
    </Plane>

    {/* D/E legend */}
    <div style={{ position: 'absolute', left: 454, top: 1098, width: 10, height: 10, borderRadius: 5, background: '#e0c070' }} />
    <Txt x={467} y={1103} size={12} bold color="#333">Le vs. NC</Txt>
    <div style={{ position: 'absolute', left: 532, top: 1098, width: 10, height: 10, borderRadius: 5, background: PIE_GREEN }} />
    <Txt x={546} y={1103} size={12} bold color="#333">LeH vs. NC</Txt>
    <div style={{ position: 'absolute', left: 618, top: 1098, width: 10, height: 10, borderRadius: 5, background: PIE_BLUE }} />
    <Txt x={632} y={1103} size={12} bold color="#333">LeH vs. Le</Txt>

    {/* F */}
    <Txt x={1255} y={487} size={27} bold>F</Txt>
    <Plane left={1240} top={500} width={532} height={600} xDomain={[0, 1568]} yDomain={[0, 1568]}>
      <Scatter data={blobPoints} isAnimationActive={false} shape={<VennBlob />} />
      <ReferenceArea x1={996} x2={1072} y1={748} y2={815} fill="none" stroke={NAVY} strokeDasharray="3 2" ifOverflow="visible" />
      <Scatter data={countPoints} isAnimationActive={false} shape={<VennCount />} />
      <Scatter data={trailPoints} isAnimationActive={false} shape={<VennTrail />} />
      <Scatter data={headPoints} isAnimationActive={false} shape={<VennHead />} />
    </Plane>
    <Txt x={1544} y={573} size={15.8} bold anchor="middle" rotate={22} color="#222">Le vs. NC_Up</Txt>
    <Txt x={1301} y={656} size={15.8} bold anchor="middle" rotate={-43} color="#222">Le vs. NC_Down</Txt>
    <Txt x={1702} y={757} size={15.8} bold anchor="middle" rotate={85} color="#222">LeH vs. NC_Down</Txt>
    <Txt x={1297} y={909} size={15.8} bold anchor="middle" rotate={53} color="#222">LeH vs. Le_Up</Txt>
    <Txt x={1580} y={988} size={15.8} bold anchor="middle" rotate={-22.7} color="#222">LeH vs. Le_Down</Txt>
    <div style={{ position: 'absolute', left: 1478, top: 1035, width: 282, height: 49, background: '#e6e9f4' }} />
    <Txt x={1484} y={1050} size={14.2} bold color={NAVY}>1. Cytokine-cytokine receptor interation</Txt>
    <Txt x={1484} y={1070} size={14.2} bold color={NAVY}>2. Inflammatory response</Txt>

    {/* G */}
    <Txt x={4} y={1140} size={27} bold>G</Txt>
    <div style={{ position: 'absolute', left: 6, top: 1163 }}>
      <Sankey
        width={579.5}
        height={486}
        data={{ nodes: sankeyNodes, links: sankeyLinks }}
        nodeWidth={107}
        nodePadding={0}
        iterations={0}
        sort={false}
        linkCurvature={0.5}
        margin={{ top: 0, right: 0, bottom: 0, left: 0 }}
        node={<AlluvialNode />}
        link={<AlluvialLink />}
      />
    </div>
    <Txt x={59} y={1659} size={12} bold anchor="middle" color="#222">Group</Txt>
    <Txt x={296} y={1659} size={12} bold anchor="middle" color="#222">Protein</Txt>
    <Txt x={532} y={1659} size={12} bold anchor="middle" color="#222">Term</Txt>

    {/* H */}
    <Txt x={596} y={1140} size={27} bold>H</Txt>
    <Frame x0={595} y0={1160} x1={996} y1={1648} />
    <Txt x={607} y={1173} size={16.5} bold color="#e0bc6a">Le vs. NC_Down</Txt>
    <Network left={590} top={1140} width={420} height={528} xDomain={[0, 1260]} yDomain={[0, 1568]} nodes={hNodes} strong={hStrong} mid={hMid} faint={hFaint} />

    {/* I */}
    <Txt x={1006} y={1140} size={27} bold>I</Txt>
    <Frame x0={1005} y0={1160} x1={1481} y1={1648} />
    <Txt x={1017} y={1173} size={16.5} bold color="#88bb66">LeH vs. NC_Down</Txt>
    <Network left={1000} top={1140} width={480} height={528} xDomain={[0, 1440]} yDomain={[0, 1568]} nodes={iNodes} strong={iStrong} mid={iMid} faint={iFaint} labelSize={8.3} />

    {/* J */}
    <Txt x={1493} y={1140} size={27} bold>J</Txt>
    <Frame x0={1494} y0={1160} x1={1767} y1={1648} />
    <Txt x={1503} y={1173} size={16.5} bold color="#5058a8">LeH vs. Le_Down</Txt>
    <Network left={1490} top={1140} width={282} height={528} xDomain={[1490, 1772]} yDomain={[1140, 1668]} nodes={jNodes} strong={jStrong} mid={jMid} thin={jThin} faint={jFaint} labelSize={9} radius={9.8} />

    {/* H/I/J legend */}
    <div style={{ position: 'absolute', left: 829, top: 1654.5, width: 8, height: 8, borderRadius: 4, background: NODE_GREEN }} />
    <Txt x={839} y={1659} size={12.3} bold color="#222">Inflammatory response</Txt>
    <div style={{ position: 'absolute', left: 986, top: 1654, width: 9, height: 9, borderRadius: 5, border: `1.3px solid ${RING_RED}`, boxSizing: 'border-box' }} />
    <Txt x={997} y={1659} size={12.3} bold color="#222">Cytokine-cytokine receptor interaction</Txt>
  </div>
);

export default App;
